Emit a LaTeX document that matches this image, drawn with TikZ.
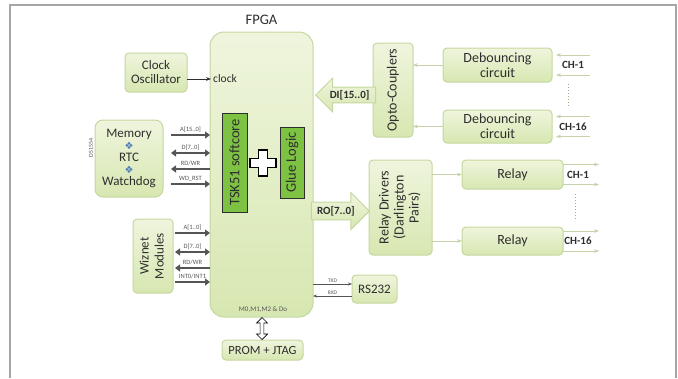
\documentclass[tikz,border=0pt]{standalone}
\usepackage{fontspec}
\setmainfont{Carlito}
\newfontfamily\dejavu{DejaVu Sans}
\usetikzlibrary{shapes.arrows,arrows.meta,positioning}
\definecolor{boxtop}{HTML}{EFF5DD}
\definecolor{boxbot}{HTML}{D7E7B1}
\definecolor{boxline}{HTML}{C4D79E}
\definecolor{coregreen}{HTML}{7DC243}
\definecolor{txt}{HTML}{2E2E2E}
\definecolor{feedline}{HTML}{C6D3AA}
\definecolor{busgray}{HTML}{555555}
\definecolor{dotblue}{HTML}{4A7EBB}
\definecolor{framegray}{HTML}{A6A6A6}
\newcommand{\bul}{{\dejavu\color{dotblue}\fontsize{10}{10}\selectfont ❖}}
\newcommand{\fs}[1]{\fontsize{#1}{#1}\selectfont}

\begin{document}
\begin{tikzpicture}[x=1pt, y=-1pt,
	blk/.style={draw=boxline, line width=1pt, top color=boxtop, bottom color=boxbot,
		rounded corners=4pt, text=txt, inner sep=1pt, outer sep=0pt, align=center,
		font=\fontsize{14}{15}\selectfont},
	core/.style={draw=txt, fill=coregreen, line width=0.8pt, text=txt, inner sep=0pt,
		outer sep=0pt, font=\fs{14.5}},
	sig/.style={font=\fs{6.5}, text=busgray, inner sep=1pt},
	busr/.style={draw=busgray, line width=1.8pt, -{Triangle[length=5pt,width=7pt]}},
	busl/.style={busr, {Triangle[length=5pt,width=7pt]}-},
	busb/.style={busr, {Triangle[length=5pt,width=7pt]}-{Triangle[length=5pt,width=7pt]}},
	feed/.style={draw=feedline, line width=1pt, -{Stealth[length=5pt]}},
	bigarr/.style={single arrow, draw=boxline, line width=1pt, top color=boxtop,
		bottom color=boxbot, text=txt, single arrow head extend=9pt, inner sep=3pt,
		font=\bfseries\fs{11}},
	chlbl/.style={font=\bfseries\fs{11}, text=txt, inner sep=0pt}]

	% frame
	\useasboundingbox (0,0) rectangle (678,378);
	\draw[framegray, line width=1.5pt] (10,378) -- (10,5) -- (676,5) -- (676,378);

	% FPGA and its cores
	\node[blk, rounded corners=14pt, minimum width=103, minimum height=285] (fpga) at (261.5,174.5) {};
	\node[text=txt, font=\fs{14.5}] (fpgalbl) at (261.5,20) {FPGA};
	\node[core, minimum width=25, minimum height=99] (tsk) at (234.5,162.5) {\rotatebox{90}{TSK51 softcore}};
	\node[core, minimum width=24, minimum height=71] (glue) at (292,162.5) {\rotatebox{90}{Glue Logic}};
	\draw[line width=1.3pt, fill=white, shift={(263,163)}] (-4.5,-13) -- (4.5,-13) -- (4.5,-4.5) -- (13,-4.5)
		-- (13,4.5) -- (4.5,4.5) -- (4.5,13) -- (-4.5,13) -- (-4.5,4.5) -- (-13,4.5) -- (-13,-4.5)
		-- (-4.5,-4.5) -- cycle;
	\node[sig, font=\fs{7}] (mode) at (263,310) {M0,M1,M2 \& Do};

	% left side
	\node[blk, font=\fontsize{13}{14}\selectfont, minimum width=62, minimum height=39] (osc) at (156,72.5) {Clock\\Oscillator};
	\node[text=txt, font=\fs{11.5}, anchor=west, inner sep=2pt] (clk) at ([xshift=1]fpga.west |- 0,79) {clock};
	\draw[txt, line width=0.9pt, -{Stealth[length=5pt]}] (osc.east |- clk.west) -- (clk.west);

	\node[blk, rounded corners=8pt, font=\fontsize{13}{12}\selectfont, minimum width=68, minimum height=77] (mem) at (129,158.5)
		{Memory\\\bul\\RTC\\\bul\\Watchdog};
	\node[sig, rotate=90, font=\fs{6}] (ds) at (91,148) {DS1554};
	\foreach \y/\t/\d in {135/{A[15..0]}/busr, 153/{D[7..0]}/busb, 169/{RD/WR}/busl, 184/{WD\_RST}/busr}
		\draw[\d] ([xshift=8]mem.east |- 0,\y) -- (fpga.west |- 0,\y) node[sig, midway, above=1pt] {\t};

	\node[blk, font=\fontsize{13}{15}\selectfont, minimum width=40, minimum height=74] (wiz) at (153,256)
		{\rotatebox{90}{\begin{tabular}{@{}c@{}}Wiznet\\Modules\end{tabular}}};
	\foreach \y/\t/\d in {233/{A[1..0]}/busr, 252/{D[7..0]}/busb, 268/{RD/WR}/busl, 282/{INT0/INT1}/busr}
		\draw[\d] ([xshift=2]wiz.east |- 0,\y) -- (fpga.west |- 0,\y) node[sig, midway, above=1pt] {\t};

	% bottom
	\node[blk, font=\fs{12.5}, minimum width=81, minimum height=20] (prom) at (262.5,350) {PROM + JTAG};
	\path (fpga.south) -- (prom.north) node[midway, double arrow, draw=black, fill=white, line width=0.7pt,
		rotate=90, minimum height=22, minimum width=11, double arrow head extend=3pt, inner sep=1.2pt] (jtag) {};

	\node[blk, font=\fs{13}, minimum width=45, minimum height=28] (rs) at (374.5,289) {RS232};
	\draw[draw=busgray, line width=0.7pt, -{Stealth[length=4pt]}] (fpga.east |- 0,284) -- (rs.west |- 0,284)
		node[sig, midway, above, font=\fs{5.5}] {TXD};
	\draw[draw=busgray, line width=0.7pt, {Stealth[length=4pt]}-] (fpga.east |- 0,296) -- (rs.west |- 0,296)
		node[sig, midway, above, font=\fs{5.5}] {RXD};

	% digital inputs
	\node[blk, minimum width=40, minimum height=94] (opto) at (393,90) {\rotatebox{90}{Opto-Couplers}};
	\node[blk, minimum width=109, minimum height=34] (deb1) at (497.5,65) {Debouncing\\circuit};
	\node[blk, minimum width=109, minimum height=33] (deb16) at (497.5,126.5) {Debouncing\\circuit};
	\node[bigarr, shape border rotate=180, anchor=tip, minimum height=60, inner ysep=2.5pt] (di)
		at ([xshift=2]fpga.east |- 0,95) {DI[15..0]};
	\foreach \b/\c in {deb1/1, deb16/16} {
		\draw[feed] (\b.west) -- (opto.east |- \b.west);
		\draw[feed] ([xshift=38,yshift=10]\b.east) -- ([xshift=4,yshift=10]\b.east);
		\draw[feed] ([xshift=38,yshift=-10]\b.east) -- ([xshift=4,yshift=-10]\b.east);
		\node[chlbl] (ch\c in) at ([xshift=21]\b.east) {CH-\c};
	}
	\draw[feedline!80!black, line width=1pt, dotted] (568,84) -- (568,106);

	% relay outputs
	\node[blk, minimum width=63, minimum height=95] (drv) at (400.5,207.5)
		{\rotatebox{90}{\begin{tabular}{@{}c@{}}Relay Drivers\\(Darlington\\Pairs)\end{tabular}}};
	\node[blk, minimum width=101, minimum height=29] (rel1) at (512.5,174.5) {Relay};
	\node[blk, minimum width=101, minimum height=28] (rel16) at (512.5,241) {Relay};
	\node[bigarr, anchor=tip, minimum height=58, inner ysep=3.5pt, single arrow head extend=9.5pt] (ro)
		at ([xshift=1]drv.west |- 0,211) {RO[7..0]};
	\foreach \b/\c in {rel1/1, rel16/16} {
		\draw[feed] (drv.east |- \b.west) -- (\b.west);
		\draw[feed] ([yshift=10]\b.east) -- ([xshift=36,yshift=10]\b.east);
		\draw[feed] ([yshift=-10]\b.east) -- ([xshift=36,yshift=-10]\b.east);
		\node[chlbl] (ch\c out) at ([xshift=15]\b.east) {CH-\c};
	}
	\draw[feedline!80!black, line width=1pt, dotted] (575,194) -- (575,220);
\end{tikzpicture}
\end{document}
